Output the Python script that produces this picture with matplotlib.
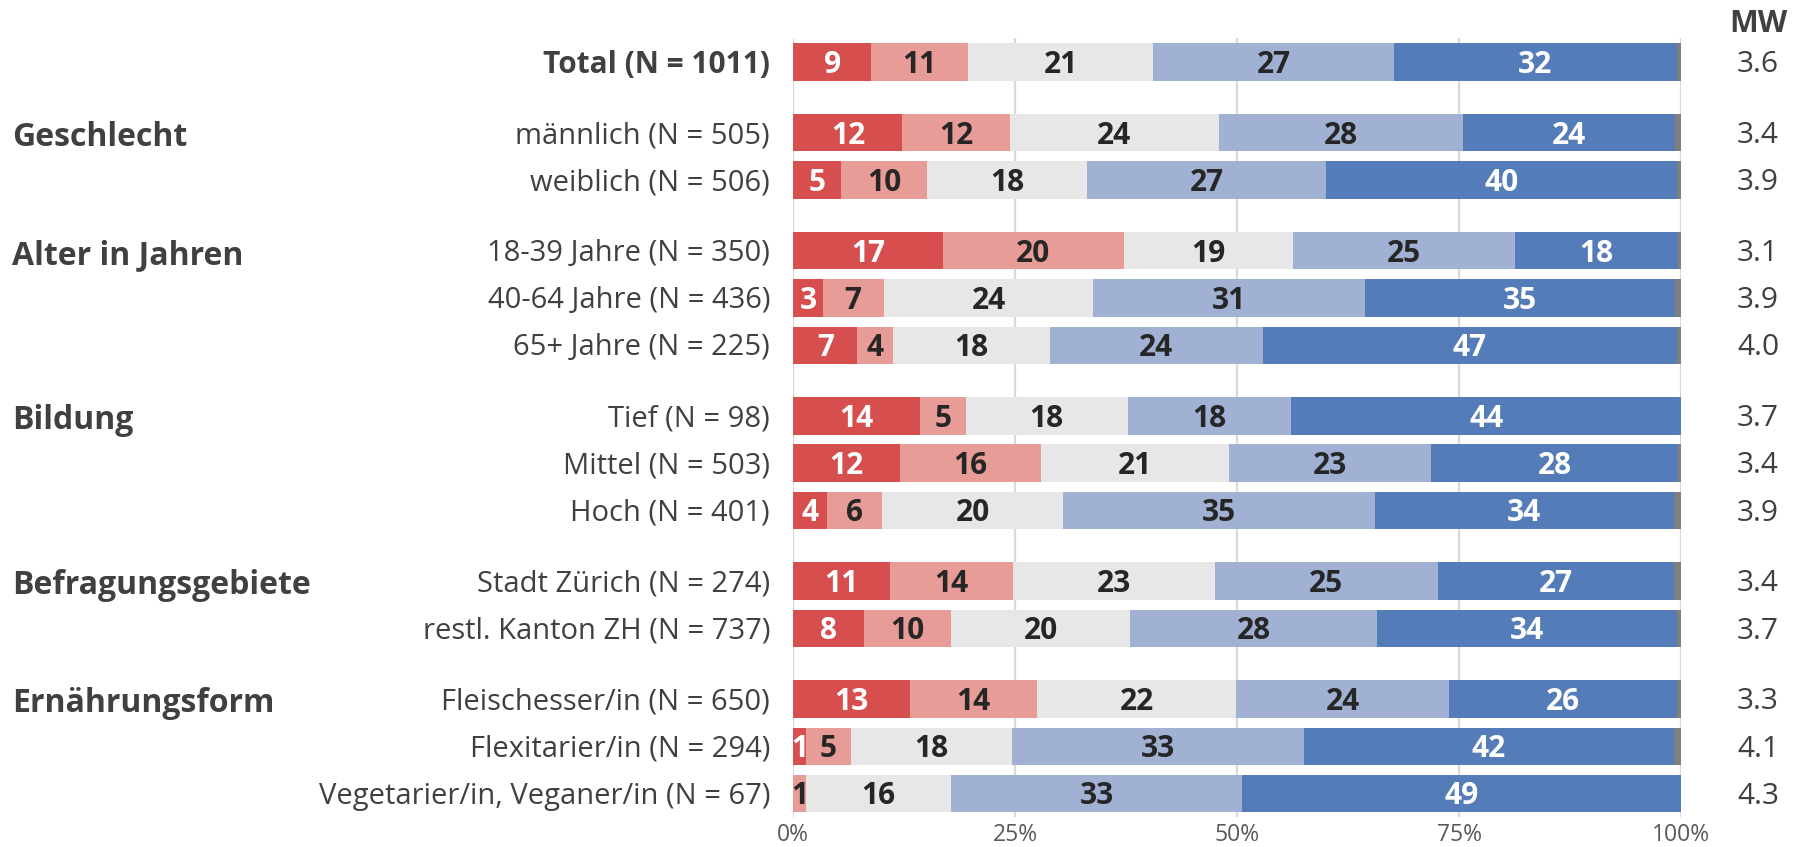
import matplotlib
matplotlib.use("Agg")
import matplotlib.pyplot as plt
import matplotlib.transforms as mtransforms

plt.rcParams["font.family"] = ["Open Sans", "DejaVu Sans"]

# Row labels and group structure
rows = [
    "Total (N = 1011)",
    "männlich (N = 505)", "weiblich (N = 506)",
    "18-39 Jahre (N = 350)", "40-64 Jahre (N = 436)", "65+ Jahre (N = 225)",
    "Tief (N = 98)", "Mittel (N = 503)", "Hoch (N = 401)",
    "Stadt Zürich (N = 274)", "restl. Kanton ZH (N = 737)",
    "Fleischesser/in (N = 650)", "Flexitarier/in (N = 294)",
    "Vegetarier/in, Veganer/in (N = 67)",
]
group_names = ["", "Geschlecht", "Alter in Jahren", "Bildung",
               "Befragungsgebiete", "Ernährungsform"]
group_sizes = [1, 2, 3, 3, 2, 3]

# Shares in percent, from most negative to most positive answer
s1 = [8.8, 12.3, 5.4, 16.9, 3.3, 7.2, 14.3, 12.0, 3.8, 10.9, 8.0, 13.1, 1.4, 0.0]
s2 = [10.9, 12.1, 9.7, 20.3, 6.9, 4.0, 5.1, 15.9, 6.2, 13.9, 9.8, 14.4, 5.1, 1.4]
s3 = [20.8, 23.5, 18.0, 19.1, 23.6, 17.7, 18.3, 21.2, 20.4, 22.7, 20.1, 22.4, 18.1, 16.4]
s4 = [27.2, 27.5, 26.9, 25.0, 30.6, 24.0, 18.4, 22.7, 35.1, 25.1, 27.9, 24.0, 32.9, 32.8]
s5 = [31.8, 23.9, 39.6, 18.4, 34.9, 46.6, 43.9, 27.9, 33.7, 26.6, 33.7, 25.6, 41.7, 49.4]
s_dk = [0.5, 0.7, 0.4, 0.3, 0.7, 0.5, 0.0, 0.3, 0.8, 0.8, 0.5, 0.5, 0.8, 0.0]

mw = [3.6, 3.4, 3.9, 3.1, 3.9, 4.0, 3.7, 3.4, 3.9, 3.4, 3.7, 3.3, 4.1, 4.3]

tick_vals = [0, 25, 50, 75, 100]
tick_labels = ["0%", "25%", "50%", "75%", "100%"]

series = [s1, s2, s3, s4, s5, s_dk]
colors = ["#D64E4E", "#E89C98", "#E7E7E7", "#A1B1D3", "#537CB8", "#7F7F7F"]
label_colors = ["white", "#262626", "#262626", "#262626", "white", None]

# vertical positions: one unit per row, half a unit extra between groups
ypos = []
group_first = []
y = 0.0
for gi, n in enumerate(group_sizes):
    if gi > 0:
        y += 0.5
    group_first.append(y)
    for k in range(n):
        ypos.append(y)
        y += 1.0

fig = plt.figure(figsize=(18, 8.47), dpi=100)
ax = fig.add_axes([793.3 / 1800, 1 - 817 / 847, (1681 - 793.3) / 1800, (817 - 38) / 847])
ax.set_xlim(0, 100)
ax.set_ylim(16.0, -0.51)

for xv in tick_vals:
    ax.axvline(xv, color="#D9D9D9", lw=1.6, zorder=0)

bar_h = 0.79
left = [0.0] * len(rows)
for si, (vals, col) in enumerate(zip(series, colors)):
    ax.barh(ypos, vals, left=left, height=bar_h, color=col, zorder=2, linewidth=0)
    lc = label_colors[si]
    if lc is not None:
        for i, v in enumerate(vals):
            if v >= 0.5:
                ax.text(left[i] + v / 2, ypos[i] + 0.06, f"{v:.0f}", ha="center", va="center",
                        fontsize=21.5, fontweight="bold", color=lc, zorder=3)
    left = [l + v for l, v in zip(left, vals)]

for sp in ax.spines.values():
    sp.set_visible(False)
ax.set_yticks([])
ax.set_xticks(tick_vals)
ax.set_xticklabels(tick_labels, fontsize=16.5, color="#595959")
ax.tick_params(axis="x", length=0, pad=4)

trans = mtransforms.blended_transform_factory(ax.transAxes, ax.transData)
for i, lab in enumerate(rows):
    ax.text(-0.0262, ypos[i] + 0.06, lab, transform=trans, ha="right", va="center",
            fontsize=21.5 if i == 0 else 21, color="#404040",
            fontweight="bold" if i == 0 else "normal")
    ax.text(1.0868, ypos[i] + 0.06, f"{mw[i]:.1f}", transform=trans, ha="center", va="center",
            fontsize=21.5, color="#404040")

ftrans = mtransforms.blended_transform_factory(fig.transFigure, ax.transData)
for name, y0 in zip(group_names, group_first):
    if name:
        ax.text(12 / 1800, y0 + 0.1, name, transform=ftrans, ha="left", va="center",
                fontsize=23, fontweight="bold", color="#404040")

ax.text(1.0868, -0.8, "MW", transform=trans, ha="center", va="center",
        fontsize=22, fontweight="bold", color="#404040")

fig.savefig("out.png", dpi=100)
